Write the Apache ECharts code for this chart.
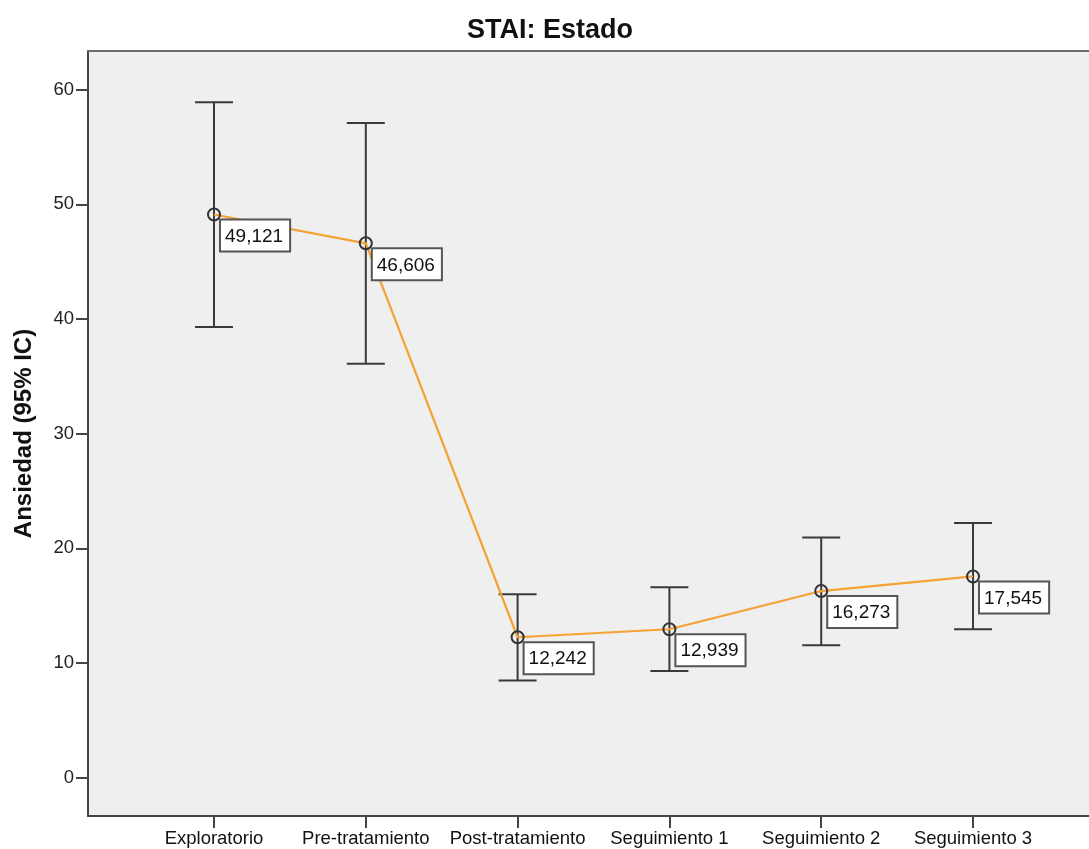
<!DOCTYPE html>
<html><head><meta charset="utf-8">
<script src="https://cdn.jsdelivr.net/npm/echarts@6/dist/echarts.min.js"></script>
<style>html,body{margin:0;padding:0;background:#fff}#c{width:1089px;height:849px}</style>
</head><body><div id="c"></div>
<script>
const categories = ['Exploratorio','Pre-tratamiento','Post-tratamiento','Seguimiento 1','Seguimiento 2','Seguimiento 3'];
const means = [49.121, 46.606, 12.242, 12.939, 16.273, 17.545];
const ciLower = [39.3, 36.1, 8.46, 9.3, 11.55, 12.95];
const ciUpper = [58.9, 57.1, 16.0, 16.6, 20.95, 22.2];
const yTicks = [0, 10, 20, 30, 40, 50, 60];
const xTicks = categories.map((c, i) => i);
const fmt = v => v.toFixed(3).replace('.', ',');
const FONT = 'Liberation Sans';
const X_MIN = -0.83, X_MAX = 5.764;

const chart = echarts.init(document.getElementById('c'), null, {renderer: 'canvas'});
chart.setOption({
  animation: false,
  backgroundColor: '#fff',
  title: {
    text: 'STAI: Estado', left: 462, top: 12,
    textStyle: {fontFamily: FONT, fontSize: 27, fontWeight: 'bold', color: '#111'}
  },
  grid: {
    left: 88, right: 0, top: 51, bottom: 33,
    show: true, backgroundColor: '#efefef', borderWidth: 0
  },
  xAxis: [{
    type: 'value', min: X_MIN, max: X_MAX, position: 'bottom',
    axisLine: {show: true, onZero: false, lineStyle: {color: '#444', width: 2}},
    axisTick: {show: true, customValues: xTicks, length: 12, lineStyle: {color: '#444', width: 2}},
    axisLabel: {
      customValues: xTicks, margin: 13,
      formatter: v => categories[Math.round(v)] || '',
      fontFamily: FONT, fontSize: 18.5, color: '#111'
    },
    splitLine: {show: false}
  }, {
    type: 'value', min: X_MIN, max: X_MAX, position: 'top',
    axisLine: {show: true, onZero: false, lineStyle: {color: '#6b6b6b', width: 2}},
    axisTick: {show: false}, axisLabel: {show: false}, splitLine: {show: false}
  }],
  yAxis: {
    type: 'value', min: -3.35, max: 63.38,
    name: 'Ansiedad (95% IC)', nameLocation: 'middle', nameGap: 52,
    nameTextStyle: {fontFamily: FONT, fontSize: 24, fontWeight: 'bold', color: '#111'},
    axisLine: {show: true, onZero: false, lineStyle: {color: '#444', width: 2}},
    axisTick: {show: true, customValues: yTicks, length: 12, lineStyle: {color: '#444', width: 2}},
    axisLabel: {customValues: yTicks, margin: 14, fontFamily: FONT, fontSize: 18.5, color: '#222'},
    splitLine: {show: false}
  },
  series: [
    {
      type: 'custom',
      data: categories.map((c, i) => [i, ciLower[i], ciUpper[i]]),
      z: 2,
      renderItem: (params, api) => {
        const x = api.value(0);
        const lo = api.coord([x, api.value(1)]);
        const hi = api.coord([x, api.value(2)]);
        const w = 19;
        const st = {stroke: '#3a3a3a', lineWidth: 2};
        return {type: 'group', children: [
          {type: 'line', shape: {x1: lo[0], y1: lo[1], x2: hi[0], y2: hi[1]}, style: st},
          {type: 'line', shape: {x1: hi[0] - w, y1: hi[1], x2: hi[0] + w, y2: hi[1]}, style: st},
          {type: 'line', shape: {x1: lo[0] - w, y1: lo[1], x2: lo[0] + w, y2: lo[1]}, style: st}
        ]};
      }
    },
    {
      type: 'line',
      data: means.map((m, i) => [i, m]),
      z: 3,
      lineStyle: {color: '#f5a133', width: 2.2},
      symbol: 'circle', symbolSize: 12,
      itemStyle: {color: 'rgba(0,0,0,0)', borderColor: '#333', borderWidth: 2},
      label: {
        show: true, position: [14, 13],
        formatter: p => fmt(p.value[1]),
        fontFamily: FONT, fontSize: 19, color: '#111',
        backgroundColor: '#fff', borderColor: '#555', borderWidth: 2,
        padding: [5, 6, 3, 4], lineHeight: 22
      }
    }
  ]
});
</script>
</body></html>
